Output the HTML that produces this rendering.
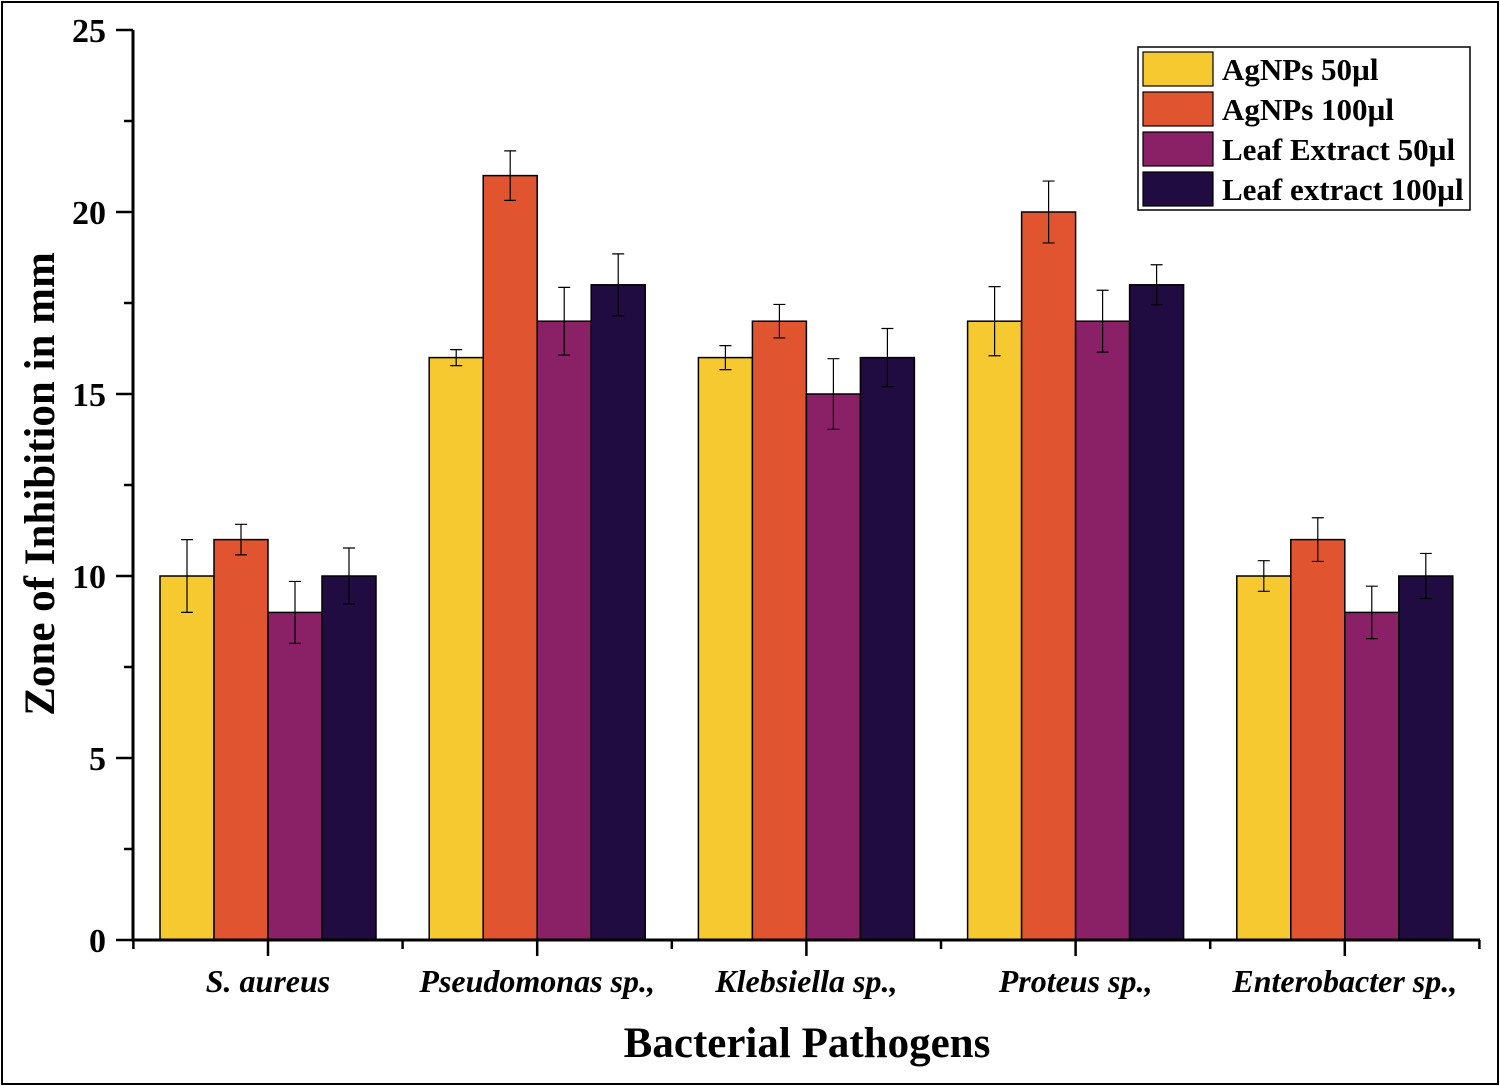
<!DOCTYPE html>
<html><head><meta charset="utf-8"><style>
html,body{margin:0;padding:0;background:#fff}
svg{display:block;font-family:"Liberation Serif",serif}
</style></head><body>
<svg id="chart" width="1500" height="1086">
<rect x="2" y="2" width="1496" height="1082" fill="#fff" stroke="#000" stroke-width="2"/>
<g id="bars"></g>
<g id="axes"></g>
<text x="807" y="1057" font-size="43" font-weight="bold" text-anchor="middle">Bacterial Pathogens</text>
<text transform="translate(54,484) rotate(-90)" font-size="43" font-weight="bold" text-anchor="middle">Zone of Inhibition in mm</text>
<g id="legend"></g>
</svg>
<script>
const categories=["S. aureus","Pseudomonas sp.,","Klebsiella sp.,","Proteus sp.,","Enterobacter sp.,"];
const seriesNames=["AgNPs 50µl","AgNPs 100µl","Leaf Extract 50µl","Leaf extract 100µl"];
const agnp50=[10,16,16,17,10];
const agnp100=[11,21,17,20,11];
const leaf50=[9,17,15,17,9];
const leaf100=[10,18,16,18,10];
const err50=[1,0.22,0.33,0.95,0.42];
const err100=[0.42,0.68,0.46,0.85,0.6];
const errL50=[0.85,0.93,0.97,0.85,0.72];
const errL100=[0.77,0.85,0.8,0.55,0.62];
const yTicks=[0,5,10,15,20,25];
const colors=["#F6C930","#E05530","#8A2066","#200C40"];
const series=[agnp50,agnp100,leaf50,leaf100];
const errs=[err50,err100,errL50,errL100];
const NS="http://www.w3.org/2000/svg";
const x0=133,x1=1480,y0=940,yTop=30,yMax=25;
const y=v=>y0-(v/yMax)*(y0-yTop);
const step=269.2,barW=54;
const cx=i=>268+i*step;
function mk(t,a,p){const e=document.createElementNS(NS,t);for(const k in a)e.setAttribute(k,a[k]);p.appendChild(e);return e;}
const bars=document.getElementById('bars');
for(let s=0;s<4;s++){for(let i=0;i<categories.length;i++){
 const bx=cx(i)-2*barW+s*barW,v=series[s][i];
 const r=mk('rect',{x:bx,y:y(v),width:barW,height:y0-y(v),fill:colors[s],stroke:'#000','stroke-width':1.5},bars);
 
 
 const ex=bx+barW/2,e=errs[s][i];
 const g=mk('path',{d:`M${ex},${y(v+e)}V${y(v-e)}M${ex-6},${y(v+e)}H${ex+6}M${ex-6},${y(v-e)}H${ex+6}`,stroke:'#000','stroke-width':1.2,fill:'none'},bars);
 
 
}}
const ax=document.getElementById('axes');
mk('path',{d:`M${x0},${yTop}V${y0}H${x1}`,stroke:'#000','stroke-width':3,fill:'none'},ax);
for(let v=0;v<=25;v+=2.5){const major=v%5===0;mk('line',{x1:major?116:124,x2:x0,y1:y(v),y2:y(v),stroke:'#000','stroke-width':2.5},ax);}
yTicks.forEach(v=>{const t=mk('text',{x:106,y:y(v)+12,'font-size':34,'font-weight':'bold','text-anchor':'end'},ax);t.textContent=v;
 
 });
categories.forEach((c,i)=>{mk('line',{x1:cx(i),x2:cx(i),y1:y0,y2:y0+16,stroke:'#000','stroke-width':2.5},ax);
 mk('line',{x1:cx(i)+step/2,x2:cx(i)+step/2,y1:y0,y2:y0+9,stroke:'#000','stroke-width':2.5},ax);
 const t=mk('text',{x:cx(i),y:992,'font-size':32,'font-weight':'bold','font-style':'italic','text-anchor':'middle'},ax);t.textContent=c;
 
 });
mk('line',{x1:cx(0)-step/2,x2:cx(0)-step/2,y1:y0,y2:y0+9,stroke:'#000','stroke-width':2.5},ax);
const lg=document.getElementById('legend');
mk('rect',{x:1138,y:47,width:332,height:163,fill:'#fff',stroke:'#000','stroke-width':1.5},lg);
seriesNames.forEach((n,s)=>{const ry=52+s*40;
 const sw=mk('rect',{x:1143,y:ry,width:70,height:34,fill:colors[s],stroke:'#000','stroke-width':1.2},lg);
 
 
 const t=mk('text',{x:1222,y:ry+28,'font-size':31,'font-weight':'bold'},lg);t.textContent=n;
 
 });
</script>
</body></html>
